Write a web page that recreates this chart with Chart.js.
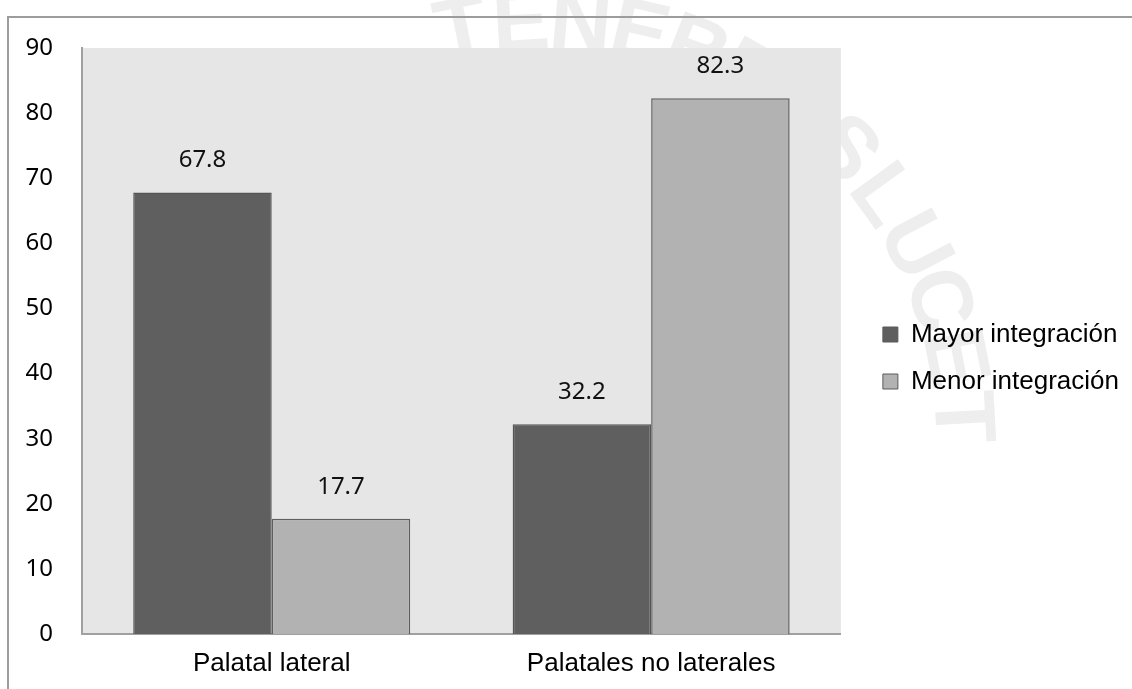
<!DOCTYPE html>
<html>
<head>
<meta charset="utf-8">
<script src="https://cdn.jsdelivr.net/npm/chart.js@4.4.1/dist/chart.umd.min.js"></script>
<style>
  html, body { margin: 0; padding: 0; background: #fff; }
  #wrap { width: 1132px; height: 689px; }
</style>
</head>
<body>
<div id="wrap"><canvas id="grafico" width="1132" height="689"></canvas></div>
<script>
const categorias = ["Palatal lateral", "Palatales no laterales"];
const series = ["Mayor integración", "Menor integración"];
const mayor = [67.8, 32.2];
const menor = [17.7, 82.3];
const ejeMin = 0;
const ejeMax = 90;
const ejePaso = 10;

const coloresBarra = ["#5f5f5f", "#b2b2b2"];
const letrasSello = "TENEBRISLUCET";
const huecoLeyenda = 21; // espacio entre el area gris y la leyenda

// fondo blanco, marco, sello tenue y area gris del grafico
const fondo = {
  id: "fondo",
  afterInit(chart) {
    // la leyenda reserva un poco mas de ancho a su izquierda
    const lg = chart.legend;
    const fitOrig = lg.fit;
    lg.fit = function () {
      fitOrig.call(this);
      this.width += huecoLeyenda;
    };
  },
  afterLayout(chart) {
    chart.legend.left += huecoLeyenda;
    chart.legend.right += huecoLeyenda;
  },
  beforeDraw(chart) {
    const ctx = chart.ctx;
    const a = chart.chartArea;
    ctx.save();
    ctx.fillStyle = "#fff";
    ctx.fillRect(0, 0, chart.width, chart.height);

    // sello de agua en arco
    ctx.fillStyle = "#eeeeee";
    ctx.font = "bold 86px 'Liberation Sans'";
    ctx.textAlign = "center";
    ctx.textBaseline = "middle";
    let ang = -101.5;
    for (const ch of letrasSello) {
      const r = ang * Math.PI / 180;
      ctx.save();
      ctx.translate(545 + 415 * Math.cos(r), 440 + 415 * Math.sin(r));
      ctx.rotate(r + Math.PI / 2);
      ctx.fillText(ch, 0, 0);
      ctx.restore();
      ang += 8.2;
    }

    ctx.strokeStyle = "#9c9c9c";
    ctx.lineWidth = 2;
    ctx.beginPath();
    ctx.moveTo(8, chart.height);
    ctx.lineTo(8, 17);
    ctx.lineTo(chart.width, 17);
    ctx.stroke();

    ctx.fillStyle = "#e6e6e6";
    ctx.fillRect(a.left, a.top, a.right - a.left, a.bottom - a.top);
    ctx.restore();
  }
};

// valores encima de cada barra
const valores = {
  id: "valores",
  afterDatasetsDraw(chart) {
    const ctx = chart.ctx;
    ctx.save();
    ctx.fillStyle = "#111";
    ctx.font = "24px 'Noto Sans'";
    ctx.textAlign = "center";
    ctx.textBaseline = "middle";
    chart.data.datasets.forEach((ds, i) => {
      chart.getDatasetMeta(i).data.forEach((bar, j) => {
        ctx.fillText(ds.data[j].toFixed(1), bar.x, bar.y - 32);
      });
    });
    ctx.restore();
  }
};

new Chart("grafico", {
  type: "bar",
  data: {
    labels: categorias,
    datasets: [
      {
        label: series[0],
        data: mayor,
        backgroundColor: coloresBarra[0],
        borderColor: "#555555",
        borderWidth: 1.5,
        borderSkipped: "bottom"
      },
      {
        label: series[1],
        data: menor,
        backgroundColor: coloresBarra[1],
        borderColor: "#5e5e5e",
        borderWidth: 1.5,
        borderSkipped: "bottom"
      }
    ]
  },
  options: {
    responsive: false,
    animation: false,
    devicePixelRatio: 1,
    layout: { padding: { top: 48, left: 0, right: 3, bottom: 0 } },
    datasets: {
      bar: { categoryPercentage: 0.73, barPercentage: 1 }
    },
    plugins: {
      tooltip: { enabled: false },
      legend: {
        position: "right",
        fullSize: false,
        title: { display: true, text: "", font: { size: 10 }, padding: { top: 11, bottom: 11 } },
        labels: {
          color: "#000",
          font: { family: "'Liberation Sans', Arial", size: 26 },
          boxWidth: 15,
          boxHeight: 15,
          padding: 21,
          generateLabels(chart) {
            return chart.data.datasets.map((ds, i) => ({
              text: ds.label,
              fillStyle: ds.backgroundColor,
              strokeStyle: "#5a5a5a",
              fontColor: "#000",
              lineWidth: 1,
              datasetIndex: i
            }));
          }
        }
      }
    },
    scales: {
      x: {
        grid: { display: false },
        border: { color: "#a0a0a0", width: 2 },
        ticks: {
          color: "#000",
          padding: 6,
          font: { family: "'Liberation Sans', Arial", size: 26 }
        },
        afterFit(s) { s.height = 55; }
      },
      y: {
        min: ejeMin,
        max: ejeMax,
        grid: { display: false },
        border: { color: "#a0a0a0", width: 2 },
        ticks: {
          stepSize: ejePaso,
          color: "#000",
          padding: 21,
          font: { family: "'Noto Sans'", size: 24 }
        },
        afterFit(s) { s.width = 82; }
      }
    }
  },
  plugins: [fondo, valores]
});
</script>
</body>
</html>
